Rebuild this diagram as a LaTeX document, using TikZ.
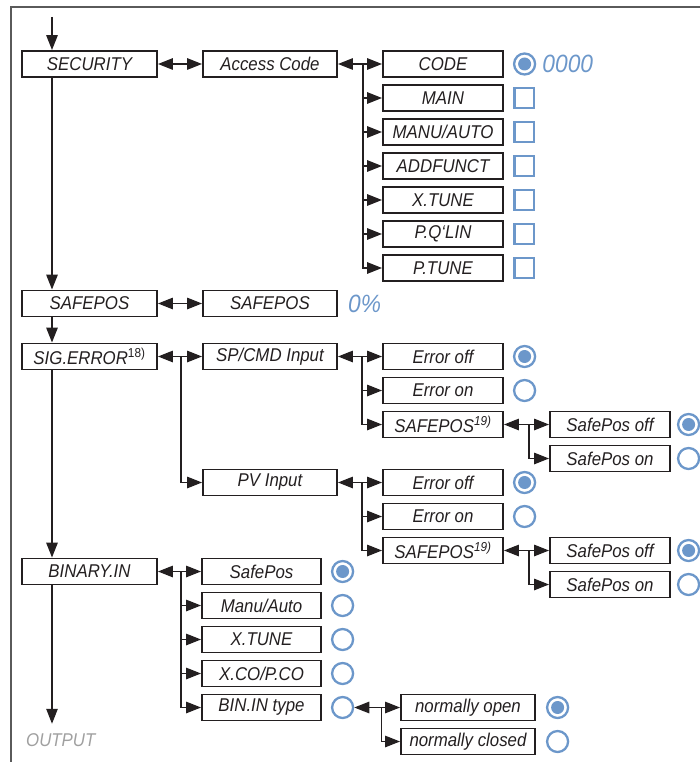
\documentclass[tikz,border=0pt]{standalone}
\usepackage{fontspec}
\setmainfont{Liberation Sans}[FakeStretch=0.91]
\usetikzlibrary{arrows.meta,calc,positioning}
\definecolor{MenuBlue}{RGB}{108,151,202}
\definecolor{FrameGray}{RGB}{90,90,90}
\definecolor{OutGray}{RGB}{160,160,160}
\definecolor{InkBlack}{RGB}{35,31,32}
\newcommand{\menufont}{\fontsize{18.5pt}{20pt}\selectfont\itshape}
\newcommand{\valfont}{\fontsize{25pt}{27pt}\selectfont\itshape}
\tikzset{
  menubox/.style={draw=InkBlack,text=InkBlack,line width=1.9pt,minimum height=26pt,inner sep=0pt,font=\menufont},
  radio/.style={circle,draw=MenuBlue,line width=2.3pt,minimum size=21pt,inner sep=0pt},
  radioon/.style={radio,path picture={\fill[MenuBlue] (path picture bounding box.center) circle (6.5pt);}},
  checkbox/.style={draw=MenuBlue,line width=2.2pt,minimum size=19.5pt,inner sep=0pt},
  link/.style={draw=InkBlack,line width=1.3pt},
  onearrow/.style={-{Triangle[length=15pt,width=11.5pt]}},
  twoarrow/.style={{Triangle[length=15pt,width=11.5pt]}-{Triangle[length=15pt,width=11.5pt]}},
  pageframe/.style={draw=FrameGray,line width=1.3pt},
}

\begin{document}
\begin{tikzpicture}[x=1pt,y=-1pt]
\useasboundingbox (0,0) rectangle (700,762);
\draw[pageframe] (11,762) -- (11,7) -- (700,7);
% main menu
\node[menubox,minimum width=135pt] (sec) at (89.5,64) {SECURITY};
\node[menubox,minimum width=135pt] (sfp) at (89.5,303.5) {SAFEPOS};
\node[menubox,minimum width=135pt] (sig) at (89.5,356.5) {SIG.ERROR\textsuperscript{\upshape 18)}};
\node[menubox,minimum width=135pt] (bin) at (89.5,571.5) {BINARY.IN};
\node[font=\menufont,text=OutGray,inner sep=0pt,anchor=west] (out) at (26,740.5) {OUTPUT};
\coordinate (entry) at (52,17);
\draw[link,onearrow] (entry) -- (entry |- sec.north);
\draw[link,onearrow] (entry |- sec.south) -- (entry |- sfp.north);
\draw[link,onearrow] (entry |- sfp.south) -- (entry |- sig.north);
\draw[link,onearrow] (entry |- sig.south) -- (entry |- bin.north);
\draw[link,onearrow] (entry |- bin.south) -- ([yshift=10pt]out.north -| entry);
% second level
\node[menubox,minimum width=134pt] (acc) at (270,64) {Access Code};
\node[menubox,minimum width=134pt] (sfpval) at (270,303.5) {SAFEPOS};
\node[menubox,minimum width=134pt] (spc) at (270,356.5) {SP/CMD Input};
\node[menubox,minimum width=134pt] (pvi) at (270,482.5) {PV Input};
\draw[link,twoarrow] (sec) -- (acc);
\draw[link,twoarrow] (sfp) -- (sfpval);
\node[font=\valfont,text=MenuBlue,inner sep=0pt,right=10pt of sfpval] (pct) {0\%};
\coordinate[right=23pt of sig] (jsig);
\draw[link,twoarrow] (sig) -- (spc);
\draw[link,onearrow] (jsig) |- (pvi);
% access code
\foreach \nm/\txt [count=\i from 0] in {code/CODE,main/MAIN,manu/{MANU/AUTO},addf/ADDFUNCT,xtune/X.TUNE,pqlin/P.Q‘LIN,ptune/P.TUNE}
  \node[menubox,minimum width=120pt] (\nm) at (443,64+34*\i) {\txt};
\node[radioon,right=9pt of code] (rcode) {};
\node[font=\valfont,text=MenuBlue,inner sep=0pt,right=6pt of rcode] (pin) {0000};
\coordinate[right=25pt of acc] (jacc);
\draw[link,twoarrow] (acc) -- (code);
\foreach \nm in {main,manu,addf,xtune,pqlin,ptune}{
  \node[checkbox,right=9.5pt of \nm] (cb\nm) {};
  \draw[link,onearrow] (jacc) |- (\nm);
}
% signal error
\foreach \g/\src/\yy in {1/spc/356.5,2/pvi/482.5}{
  \node[menubox,minimum width=120pt] (eof\g) at (443,\yy) {Error off};
  \node[menubox,minimum width=120pt] (eon\g) at (443,\yy+34) {Error on};
  \node[menubox,minimum width=120pt] (sfe\g) at (443,\yy+68) {SAFEPOS\textsuperscript{19)}};
  \node[menubox,minimum width=120pt] (spoff\g) at (610,\yy+68) {SafePos off};
  \node[menubox,minimum width=120pt] (spon\g) at (610,\yy+102) {SafePos on};
  \node[radioon,right=9pt of eof\g] (reof\g) {};
  \node[radio,right=9pt of eon\g] (reon\g) {};
  \node[radioon,right=6pt of spoff\g] (rspoff\g) {};
  \node[radio,right=6pt of spon\g] (rspon\g) {};
  \coordinate[right=24pt of \src] (j\src);
  \draw[link,twoarrow] (\src) -- (eof\g);
  \draw[link,onearrow] (j\src) |- (eon\g);
  \draw[link,onearrow] (j\src) |- (sfe\g);
  \coordinate[right=25pt of sfe\g] (jsfe\g);
  \draw[link,twoarrow] (sfe\g) -- (spoff\g);
  \draw[link,onearrow] (jsfe\g) |- (spon\g);
}
% binary input
\foreach \nm/\txt [count=\i from 0] in {bsp/SafePos,bma/{Manu/Auto},bxt/X.TUNE,bxc/{X.CO/P.CO},bbt/BIN.IN type}
  \node[menubox,minimum width=119pt] (\nm) at (261.5,571.5+34*\i) {\txt};
\node[radioon,right=9pt of bsp] (rbsp) {};
\foreach \nm in {bma,bxt,bxc,bbt}
  \node[radio,right=9pt of \nm] (r\nm) {};
\coordinate[right=23pt of bin] (jbin);
\draw[link,twoarrow] (bin) -- (bsp);
\foreach \nm in {bma,bxt,bxc,bbt}
  \draw[link,onearrow] (jbin) |- (\nm);
\node[menubox,minimum width=134pt] (nop) at (468,707.5) {normally open};
\node[menubox,minimum width=134pt] (ncl) at (468,741.5) {normally closed};
\node[radioon,right=10pt of nop] (rnop) {};
\node[radio,right=10pt of ncl] (rncl) {};
\coordinate[right=27pt of rbbt] (jbbt);
\draw[link,twoarrow] (rbbt) -- (nop);
\draw[link,onearrow] (jbbt) |- (ncl);
\end{tikzpicture}
\end{document}
